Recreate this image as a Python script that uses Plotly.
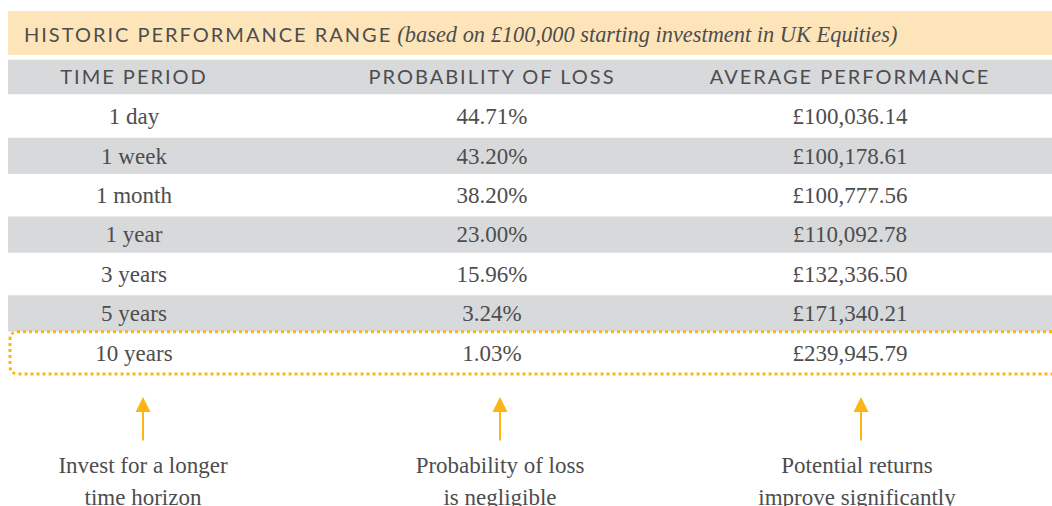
import plotly.graph_objects as go

# ---- data ----
title_main = "HISTORIC PERFORMANCE RANGE"
title_sub = "(based on £100,000 starting investment in UK Equities)"
column_headers = ["TIME PERIOD", "PROBABILITY OF LOSS", "AVERAGE PERFORMANCE"]
time_periods = ["1 day", "1 week", "1 month", "1 year", "3 years", "5 years", "10 years"]
prob_of_loss = [44.71, 43.20, 38.20, 23.00, 15.96, 3.24, 1.03]
avg_performance = [100036.14, 100178.61, 100777.56, 110092.78, 132336.50, 171340.21, 239945.79]
highlight_row = "10 years"
notes_line1 = ["Invest for a longer", "Probability of loss", "Potential returns"]
notes_line2 = ["time horizon", "is negligible", "improve significantly"]

# ---- styling / layout ----
W, H = 1052, 506
TEXT = "#4d4d4f"
GRAY = "#d8d9db"
BEIGE = "#fde5b9"
ORANGE = "#fbb518"
SANS = "Lato, sans-serif"
SERIF = "Liberation Serif, serif"

PX_X = 358.0      # pixels per column unit
X0 = 134.0        # pixel of column 0
PX_Y = 39.4       # pixels per row unit
Y0 = 77.0         # pixel of header row
DY = 2.0 / PX_Y   # small optical shift for text


def ux(p):
    return (p - X0) / PX_X


def uy(p):
    return (p - Y0) / PX_Y


n = len(time_periods)
rows = list(range(1, n + 1))
prob_txt = [f"{v:.2f}%" for v in prob_of_loss]
perf_txt = [f"£{v:,.2f}" for v in avg_performance]

fig = go.Figure()

# header labels
fig.add_trace(go.Scatter(
    x=[0, 1, 2], y=[DY] * 3, mode="text",
    text=[f"<span style='letter-spacing:2px'>{h}</span>" for h in column_headers],
    textposition="middle center",
    textfont=dict(family=SANS, size=20, color=TEXT),
    hoverinfo="skip", showlegend=False,
))

# table cells
for col, vals in enumerate([time_periods, prob_txt, perf_txt]):
    fig.add_trace(go.Scatter(
        x=[col] * n, y=[r + DY for r in rows], mode="text", text=vals,
        textposition="middle center",
        textfont=dict(family=SERIF, size=23, color=TEXT),
        hoverinfo="skip", showlegend=False,
    ))

# notes
note_x = [ux(143), ux(500), ux(857)]
arrow_x = [ux(143), ux(500), ux(861)]
for line, py in [(notes_line1, 467), (notes_line2, 499)]:
    fig.add_trace(go.Scatter(
        x=note_x, y=[uy(py)] * 3, mode="text", text=line,
        textposition="middle center",
        textfont=dict(family=SERIF, size=23, color=TEXT),
        hoverinfo="skip", showlegend=False,
    ))

xl = ux(8)
xr = ux(1100)
shapes = []
# title band
shapes.append(dict(type="rect", xref="x", yref="y", x0=xl, x1=xr,
                   y0=uy(11), y1=uy(55), fillcolor=BEIGE, line_width=0, layer="below"))
# header band
shapes.append(dict(type="rect", xref="x", yref="y", x0=xl, x1=xr,
                   y0=-0.44, y1=0.44, fillcolor=GRAY, line_width=0, layer="below"))
# alternating rows
for r in rows:
    if r % 2 == 0:
        shapes.append(dict(type="rect", xref="x", yref="y", x0=xl, x1=xr,
                           y0=r - 0.46, y1=r + 0.46, fillcolor=GRAY, line_width=0, layer="below"))

# dotted highlight around the 10-year row
hr = rows[time_periods.index(highlight_row)]
ya, yb = hr - 0.535, hr + 0.535
bx = ux(10)
rx = 8 / PX_X
ry = 8 / PX_Y
path = (f"M {xr},{ya} L {bx + rx},{ya} Q {bx},{ya} {bx},{ya + ry} "
        f"L {bx},{yb - ry} Q {bx},{yb} {bx + rx},{yb} L {xr},{yb}")
shapes.append(dict(type="path", xref="x", yref="y", path=path,
                   line=dict(color=ORANGE, width=3, dash="dot"), layer="above"))

annotations = [
    dict(x=ux(22), y=uy(34), xref="x", yref="y", xanchor="left", yanchor="middle",
         showarrow=False,
         text=(f"<span style='letter-spacing:2px'>{title_main}</span> "
               f"<span style='font-family:Liberation Serif;font-style:italic;font-size:22.4px'>{title_sub}</span>"),
         font=dict(family=SANS, size=20, color=TEXT)),
]
for ax_ in arrow_x:
    annotations.append(dict(
        x=ax_, y=uy(397), ax=ax_, ay=uy(442), xref="x", yref="y", axref="x", ayref="y",
        text="", showarrow=True, arrowhead=2, arrowsize=1.5, arrowwidth=2,
        arrowcolor=ORANGE, standoff=0, startstandoff=0,
    ))

fig.update_layout(
    width=W, height=H,
    margin=dict(l=0, r=0, t=0, b=0),
    paper_bgcolor="white", plot_bgcolor="white",
    xaxis=dict(range=[ux(0), ux(W)], visible=False, fixedrange=True),
    yaxis=dict(range=[uy(H), uy(0)], visible=False, fixedrange=True),
    shapes=shapes, annotations=annotations,
    showlegend=False,
)

fig.write_html(
    "out.html",
    config={"displayModeBar": False},
    post_script="document.body.style.margin='0';document.body.style.overflow='hidden';",
)
